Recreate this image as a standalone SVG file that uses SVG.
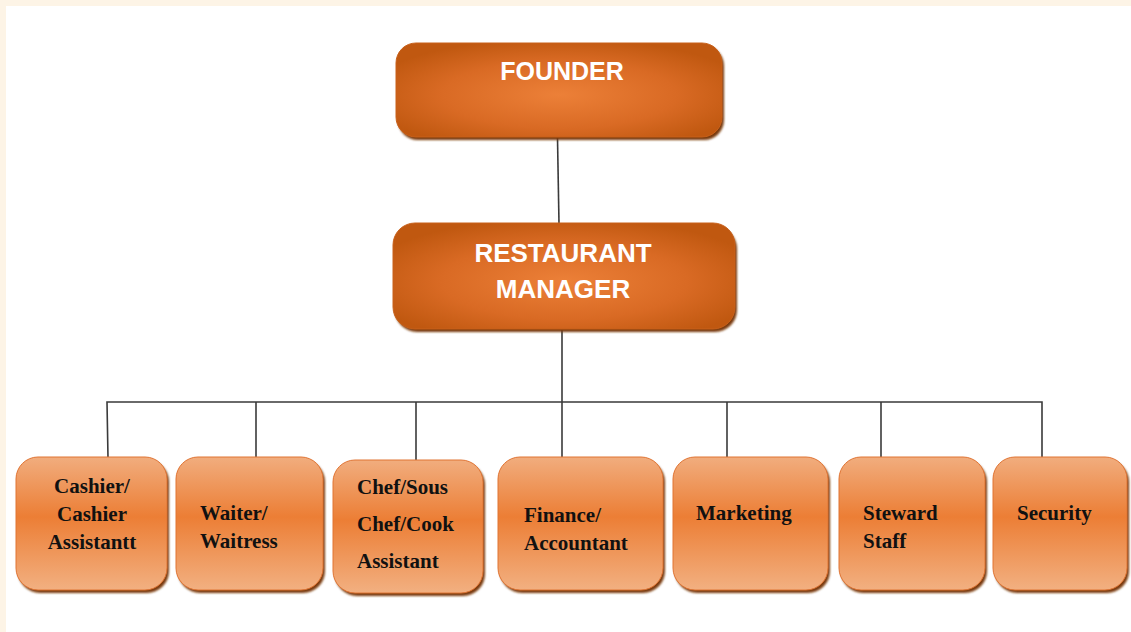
<svg xmlns="http://www.w3.org/2000/svg" width="1131" height="632" viewBox="0 0 1131 632">
  <defs>
    <radialGradient id="topFill" cx="0.5" cy="0.55" r="0.6">
      <stop offset="0" stop-color="#ec8038"/>
      <stop offset="0.6" stop-color="#d96a24"/>
      <stop offset="1" stop-color="#c05810"/>
    </radialGradient>
    <linearGradient id="subFill" x1="0" y1="0" x2="0" y2="1">
      <stop offset="0" stop-color="#f1ad7e"/>
      <stop offset="0.45" stop-color="#ec7e35"/>
      <stop offset="1" stop-color="#f2b081"/>
    </linearGradient>
    <filter id="soft" x="-5%" y="-5%" width="110%" height="115%">
      <feGaussianBlur stdDeviation="0.8"/>
    </filter>
    <style>
      .shadow { fill: #7a3a0b; filter: url(#soft); }
      .top { fill: url(#topFill); stroke: #c8601a; stroke-width: 1; }
      .sub { fill: url(#subFill); stroke: #e07433; stroke-width: 1; }
      .head { font-family: "Liberation Sans", Arial, sans-serif; font-weight: bold; font-size: 25px; fill: #ffffff; text-anchor: middle; }
      .big { font-size: 26px; }
      .lbl { font-family: "Liberation Serif", "Times New Roman", serif; font-weight: bold; font-size: 21px; fill: #111111; }
      .lines path { fill: none; stroke: #3a3a3a; stroke-width: 1.6; }
    </style>
  </defs>

  <!-- page background with cream margin -->
  <rect x="0" y="0" width="1131" height="632" fill="#fdf4e6"/>
  <rect x="6" y="6" width="1125" height="626" fill="#ffffff"/>

  <!-- connectors -->
  <g id="connectors" class="lines">
    <path d="M557.5 138 L559 224"/>
    <path d="M562 329 L562 458"/>
    <path d="M108 458 L107 402 L1042 402 L1042 458"/>
    <path d="M256 402 L256 458"/>
    <path d="M416 402 L416 461"/>
    <path d="M727 402 L727 458"/>
    <path d="M881 402 L881 458"/>
  </g>

  <!-- top level -->
  <g id="founder">
    <rect class="shadow" x="398" y="46" width="326" height="94" rx="20"/>
    <rect class="top" x="396" y="43" width="326" height="94" rx="20"/>
    <text class="head" x="562" y="80">FOUNDER</text>
  </g>

  <g id="manager">
    <rect class="shadow" x="395" y="227" width="342" height="105" rx="22"/>
    <rect class="top" x="393" y="223" width="342" height="106" rx="22"/>
    <text class="head big" x="563" y="262">RESTAURANT</text>
    <text class="head big" x="563" y="298">MANAGER</text>
  </g>

  <!-- departments -->
  <g id="cashier">
    <rect class="shadow" x="18" y="460" width="151" height="133" rx="22"/>
    <rect class="sub" x="16" y="457" width="151" height="133" rx="22"/>
    <text class="lbl" x="92" y="493" text-anchor="middle">Cashier/</text>
    <text class="lbl" x="92" y="521" text-anchor="middle">Cashier</text>
    <text class="lbl" x="92" y="549" text-anchor="middle">Assistantt</text>
  </g>

  <g id="waiter">
    <rect class="shadow" x="178" y="460" width="147" height="133" rx="22"/>
    <rect class="sub" x="176" y="457" width="147" height="133" rx="22"/>
    <text class="lbl" x="200" y="520">Waiter/</text>
    <text class="lbl" x="200" y="548">Waitress</text>
  </g>

  <g id="chef">
    <rect class="shadow" x="335" y="463" width="150" height="133" rx="22"/>
    <rect class="sub" x="333" y="460" width="150" height="133" rx="22"/>
    <text class="lbl" x="357" y="494">Chef/Sous</text>
    <text class="lbl" x="357" y="531">Chef/Cook</text>
    <text class="lbl" x="357" y="568">Assistant</text>
  </g>

  <g id="finance">
    <rect class="shadow" x="500" y="460" width="165" height="133" rx="22"/>
    <rect class="sub" x="498" y="457" width="165" height="133" rx="22"/>
    <text class="lbl" x="524" y="522">Finance/</text>
    <text class="lbl" x="524" y="550">Accountant</text>
  </g>

  <g id="marketing">
    <rect class="shadow" x="675" y="460" width="155" height="133" rx="22"/>
    <rect class="sub" x="673" y="457" width="155" height="133" rx="22"/>
    <text class="lbl" x="696" y="520">Marketing</text>
  </g>

  <g id="steward">
    <rect class="shadow" x="841" y="460" width="146" height="133" rx="22"/>
    <rect class="sub" x="839" y="457" width="146" height="133" rx="22"/>
    <text class="lbl" x="863" y="520">Steward</text>
    <text class="lbl" x="863" y="548">Staff</text>
  </g>

  <g id="security">
    <rect class="shadow" x="995" y="460" width="134" height="133" rx="22"/>
    <rect class="sub" x="993" y="457" width="134" height="133" rx="22"/>
    <text class="lbl" x="1017" y="520">Security</text>
  </g>
</svg>
